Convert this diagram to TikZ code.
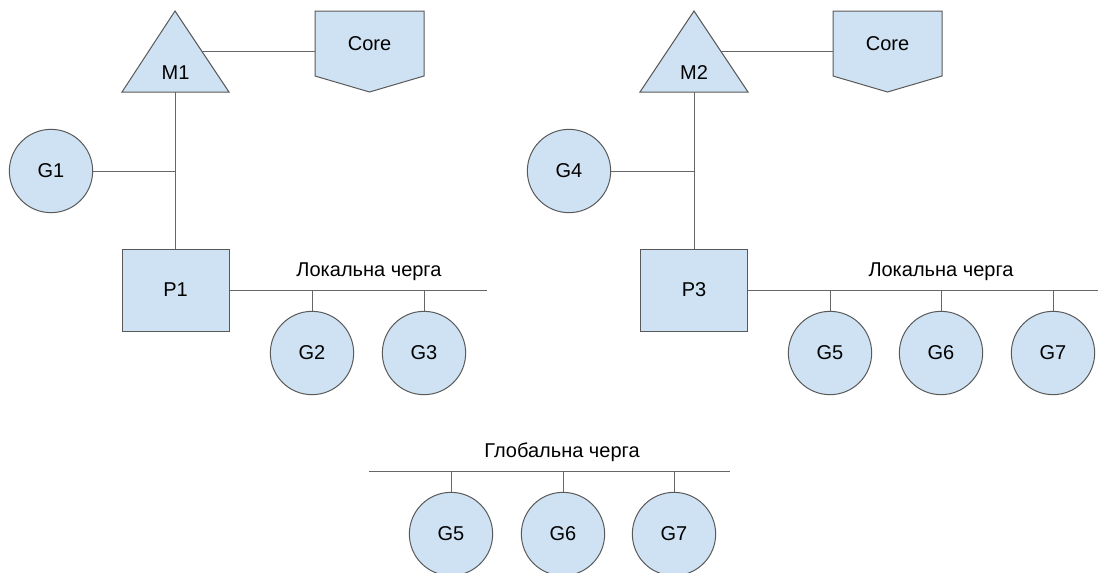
\documentclass[tikz,border=0pt]{standalone}
\usepackage{fontspec}
\setmainfont{Liberation Sans}
\definecolor{qblue}{HTML}{CFE2F3}
\definecolor{qline}{HTML}{666666}
\tikzset{
	shapefill/.style={draw=black!65, fill=qblue, line width=0.75pt},
	gnode/.style={shapefill, circle, inner sep=0pt, minimum size=62.5pt},
	pnode/.style={shapefill, rectangle, inner sep=0pt, minimum width=80.25pt, minimum height=61.5pt},
	link/.style={draw=qline, line width=0.75pt},
	lbl/.style={inner sep=0pt}
}

\begin{document}
\begin{tikzpicture}[x=0.75pt, y=-0.75pt, font=\fontsize{15}{18}\selectfont]
			%%%%% START %%%%%
			\useasboundingbox (0, 0) rectangle (1098, 572);
			
			% first machine
			\draw[shapefill] (175, 11) -- (229, 92) -- (122, 92) -- cycle;
			\node[lbl] (m1) at (175.5, 73) {M1};
			\coordinate (m1base) at (175.5, 92);
			\coordinate (m1side) at (202, 51);
			
			\draw[shapefill] (315, 11) -- (424, 11) -- (424, 76) -- (369.5, 92) -- (315, 76) -- cycle;
			\node[lbl] (core1) at (369.5, 44) {Core};
			\coordinate (core1w) at (315, 51);
			
			\node[gnode] (g1) at (51, 171) {G1};
			\node[pnode] (p1) at (175.5, 290) {P1};
			
			\draw[link] (m1side) -- (core1w);
			\draw[link] (m1base) -- (p1.north);
			\draw[link] (g1.east) -- (g1.east -| p1.north);
			
			\coordinate (q1end) at (487, 290);
			\node[lbl] (lq1) at (369, 272) {Локальна черга};
			\draw[link] (p1.east) -- (q1end);
			
			\node[gnode] (g2) at (312, 353) {G2};
			\node[gnode] (g3) at (424, 353) {G3};
			\draw[link] (g2.north) -- (g2.north |- p1.east);
			\draw[link] (g3.north) -- (g3.north |- p1.east);
			
			% second machine
			\draw[shapefill] (694, 11) -- (748, 92) -- (640, 92) -- cycle;
			\node[lbl] (m2) at (694, 73) {M2};
			\coordinate (m2base) at (694, 92);
			\coordinate (m2side) at (721, 51);
			
			\draw[shapefill] (833, 11) -- (942, 11) -- (942, 76) -- (887.5, 92) -- (833, 76) -- cycle;
			\node[lbl] (core2) at (887.5, 44) {Core};
			\coordinate (core2w) at (833, 51);
			
			\node[gnode] (g4) at (569, 171) {G4};
			\node[pnode] (p3) at (694, 290) {P3};
			
			\draw[link] (m2side) -- (core2w);
			\draw[link] (m2base) -- (p3.north);
			\draw[link] (g4.east) -- (g4.east -| p3.north);
			
			\coordinate (q3end) at (1098, 290);
			\node[lbl] (lq3) at (941, 272) {Локальна черга};
			\draw[link] (p3.east) -- (q3end);
			
			\node[gnode] (g5) at (830, 353) {G5};
			\node[gnode] (g6) at (941, 353) {G6};
			\node[gnode] (g7) at (1053, 353) {G7};
			\draw[link] (g5.north) -- (g5.north |- p3.east);
			\draw[link] (g6.north) -- (g6.north |- p3.east);
			\draw[link] (g7.north) -- (g7.north |- p3.east);
			
			% global queue
			\coordinate (gqstart) at (369, 471);
			\coordinate (gqend) at (730, 471);
			\node[lbl] (lgq) at (562, 452) {Глобальна черга};
			\draw[link] (gqstart) -- (gqend);
			
			\node[gnode] (gg5) at (451, 534) {G5};
			\node[gnode] (gg6) at (563, 534) {G6};
			\node[gnode] (gg7) at (674, 534) {G7};
			\draw[link] (gg5.north) -- (gg5.north |- gqstart);
			\draw[link] (gg6.north) -- (gg6.north |- gqstart);
			\draw[link] (gg7.north) -- (gg7.north |- gqstart);
			
			%%%%% END %%%%%
		\end{tikzpicture}
\end{document}
